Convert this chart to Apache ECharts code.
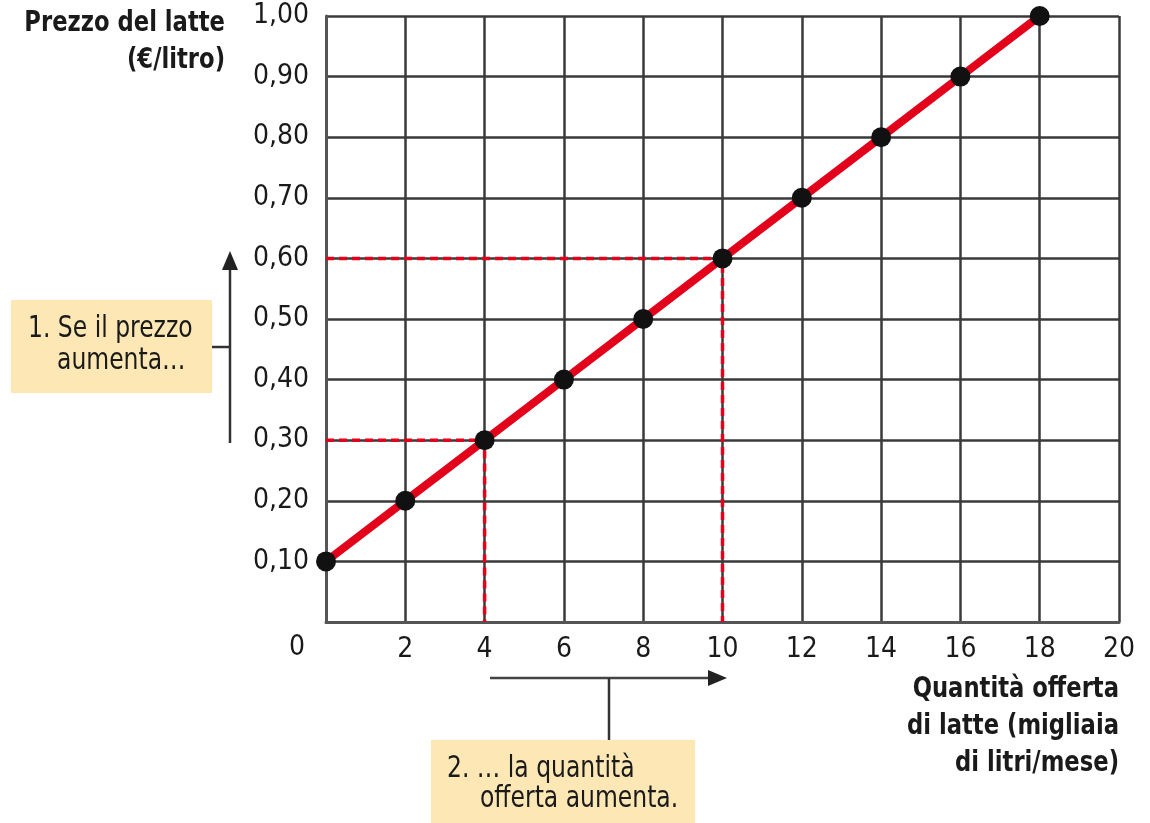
<!DOCTYPE html>
<html>
<head>
<meta charset="utf-8">
<script src="https://cdn.jsdelivr.net/npm/echarts@6/dist/echarts.min.js"></script>
<style>
  html, body { margin: 0; padding: 0; background: #fff; }
  #chart { width: 1150px; height: 823px; }
</style>
</head>
<body>
<div id="chart"></div>
<script>
// dati: quantità (migliaia di litri/mese) e prezzo (€/litro)
var quantita = [0, 2, 4, 6, 8, 10, 12, 14, 16, 18];
var prezzo = [0.10, 0.20, 0.30, 0.40, 0.50, 0.60, 0.70, 0.80, 0.90, 1.00];
// tratteggi di lettura
var guida1 = [[0, 0.30], [4, 0.30], [4, 0]];
var guida2 = [[0, 0.60], [10, 0.60], [10, 0]];

var FONT = '"DejaVu Sans Condensed", "Liberation Sans Narrow", sans-serif';
var RED = '#e2001a';
var GRID = '#3a3a3a';
var INK = '#1a1a1a';
var SX = 0.87; // restringe il testo per imitare il carattere condensato

var chart = echarts.init(document.getElementById('chart'));

var punti = quantita.map(function (q, i) { return [q, prezzo[i]]; });

function testo(x, y, t, font, align) {
  return {
    type: 'text', x: x, y: y, scaleX: SX,
    style: { text: t, font: font, fill: INK, textAlign: align || 'left', lineHeight: 37 }
  };
}

var option = {
  animation: false,
  grid: { left: 326, top: 16, right: 31, bottom: 201 },
  xAxis: {
    type: 'value', min: 0, max: 20, interval: 2,
    axisLine: { show: true, lineStyle: { color: '#555', width: 3 } },
    axisTick: { show: false },
    splitLine: { show: true, lineStyle: { color: GRID, width: 2.5 } },
    axisLabel: { showMinLabel: false, color: INK, fontSize: 28, fontFamily: FONT, margin: 14 }
  },
  yAxis: {
    type: 'value', min: 0, max: 1, interval: 0.1,
    axisLine: { show: true, lineStyle: { color: '#555', width: 3 } },
    axisTick: { show: false },
    splitLine: { show: true, lineStyle: { color: GRID, width: 2.5 } },
    axisLabel: {
      showMinLabel: false, color: INK, fontSize: 28, fontFamily: FONT, margin: 17,
      padding: [6, 0, 0, 0],
      formatter: function (v) { return v.toFixed(2).replace('.', ','); }
    }
  },
  series: [
    {
      type: 'line', data: guida1, symbol: 'none', z: 3,
      lineStyle: { color: RED, width: 3.5, type: [8, 5] }
    },
    {
      type: 'line', data: guida2, symbol: 'none', z: 3,
      lineStyle: { color: RED, width: 3.5, type: [8, 5] }
    },
    {
      type: 'line', data: punti, z: 5,
      symbol: 'circle', symbolSize: 20,
      itemStyle: { color: '#111' },
      lineStyle: { color: RED, width: 8 }
    }
  ],
  graphic: [
    // titolo asse y
    testo(225, 5, 'Prezzo del latte\n(€/litro)', 'bold 29px ' + FONT, 'right'),
    // etichetta 0
    { type: 'text', x: 289, y: 634, style: { text: '0', font: '28px ' + FONT, fill: INK } },
    // titolo asse x
    testo(1119, 671, 'Quantità offerta\ndi latte (migliaia\ndi litri/mese)', 'bold 29px ' + FONT, 'right'),
    // riquadro 1
    { type: 'rect', shape: { x: 11, y: 300, width: 201, height: 93 }, style: { fill: '#fce7b5' } },
    testo(28, 311, '1. Se il prezzo', '30px ' + FONT),
    testo(57, 343, 'aumenta…', '30px ' + FONT),
    { type: 'line', shape: { x1: 212, y1: 347, x2: 230, y2: 347 }, style: { stroke: '#333', lineWidth: 2.5 } },
    { type: 'line', shape: { x1: 230, y1: 443, x2: 230, y2: 262 }, style: { stroke: '#333', lineWidth: 2.5 } },
    { type: 'polygon', shape: { points: [[230, 251], [222, 270], [238, 270]] }, style: { fill: '#222' } },
    // riquadro 2
    { type: 'rect', shape: { x: 431, y: 740, width: 264, height: 83 }, style: { fill: '#fce7b5' } },
    testo(447, 751, '2. … la quantità', '30px ' + FONT),
    testo(480, 781, 'offerta aumenta.', '30px ' + FONT),
    { type: 'line', shape: { x1: 490, y1: 678, x2: 715, y2: 678 }, style: { stroke: '#444', lineWidth: 2.5 } },
    { type: 'polygon', shape: { points: [[727, 678], [708, 670], [708, 686]] }, style: { fill: '#222' } },
    { type: 'line', shape: { x1: 609, y1: 678, x2: 609, y2: 740 }, style: { stroke: '#333', lineWidth: 2.5 } }
  ]
};

chart.setOption(option);
window.onresize = chart.resize;
</script>
</body>
</html>
